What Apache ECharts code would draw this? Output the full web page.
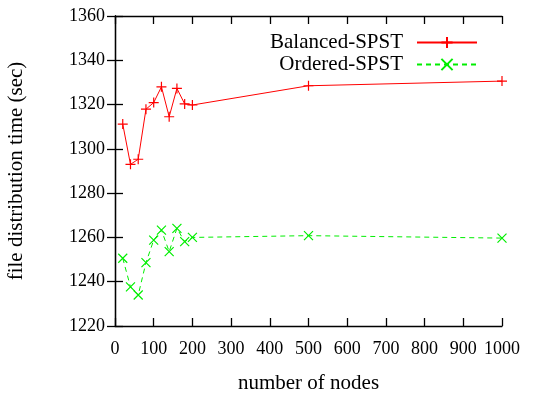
<!DOCTYPE html>
<html><head><meta charset="utf-8">
<script src="https://cdn.jsdelivr.net/npm/echarts@6/dist/echarts.min.js"></script>
<style>html,body{margin:0;padding:0;background:#fff}#c{width:557px;height:396px}</style>
</head><body><div id="c"></div>
<script>
var nodes = [20, 40, 60, 80, 100, 120, 140, 160, 180, 200, 500, 1000];
var balanced = [1311.2, 1293.0, 1295.3, 1317.9, 1320.9, 1328.0, 1314.5, 1327.3, 1320.3, 1319.8, 1328.5, 1330.6];
var ordered = [1250.6, 1237.7, 1234.0, 1248.6, 1258.8, 1263.3, 1253.6, 1264.1, 1258.1, 1260.0, 1260.8, 1259.7];
var xTicks = [0, 100, 200, 300, 400, 500, 600, 700, 800, 900, 1000];
var yTicks = [1220, 1240, 1260, 1280, 1300, 1320, 1340, 1360];

var FONT = 'Liberation Serif';
var plusPath = 'path://M0,5L10,5M5,0L5,10';
var crossPath = 'path://M0,0L10,10M10,0L0,10';
function pairs(xs, ys){ return xs.map(function(x,i){ return [x, ys[i]]; }); }
function plain(v){ return String(v); }

var chart = echarts.init(document.getElementById('c'), null, {renderer:'canvas'});
var axisCommon = {
  axisLine:{show:true, lineStyle:{color:'#000', width:1.3}},
  axisTick:{show:true, inside:true, length:8, lineStyle:{color:'#000', width:1.3}},
  splitLine:{show:false}
};
chart.setOption({
  animation:false,
  grid:{left:115, top:16, width:387, height:310, outerBoundsMode:'none', containLabel:false},
  legend:{
    right:74, top:27, orient:'vertical', align:'right',
    itemWidth:60, itemHeight:14, itemGap:1,
    textStyle:{fontFamily:FONT, fontSize:21, color:'#000', padding:[0,9,0,0]},
    data:['Balanced-SPST','Ordered-SPST']
  },
  xAxis:[
    Object.assign({type:'value', min:xTicks[0], max:xTicks[xTicks.length-1], interval:100,
      position:'bottom',
      name:'number of nodes', nameLocation:'middle', nameGap:47,
      nameTextStyle:{fontFamily:FONT, fontSize:21, color:'#000'},
      axisLabel:{fontFamily:FONT, fontSize:18, color:'#000', margin:14, formatter:plain}}, axisCommon),
    Object.assign({type:'value', min:xTicks[0], max:xTicks[xTicks.length-1], interval:100,
      position:'top', axisLabel:{show:false}}, axisCommon)
  ],
  yAxis:[
    Object.assign({type:'value', min:yTicks[0], max:yTicks[yTicks.length-1], interval:20,
      position:'left',
      name:'file distribution time (sec)', nameLocation:'middle', nameGap:88,
      nameTextStyle:{fontFamily:FONT, fontSize:21, color:'#000'},
      axisLabel:{fontFamily:FONT, fontSize:18, color:'#000', margin:10, formatter:plain}}, axisCommon),
    Object.assign({type:'value', min:yTicks[0], max:yTicks[yTicks.length-1], interval:20,
      position:'right', axisLabel:{show:false}}, axisCommon)
  ],
  series:[
    {name:'Balanced-SPST', type:'line', data:pairs(nodes, balanced),
     symbol:plusPath, symbolSize:10, showAllSymbol:true,
     color:'#ff0000',
     lineStyle:{color:'#ff0000', width:1},
     itemStyle:{color:'none', borderColor:'#ff0000', borderWidth:1.2}},
    {name:'Ordered-SPST', type:'line', data:pairs(nodes, ordered),
     symbol:crossPath, symbolSize:9, showAllSymbol:true,
     color:'#00ee00',
     lineStyle:{color:'#00ee00', width:1, type:[5,4]},
     itemStyle:{color:'none', borderColor:'#00ee00', borderWidth:1.2}}
  ]
});
</script></body></html>
